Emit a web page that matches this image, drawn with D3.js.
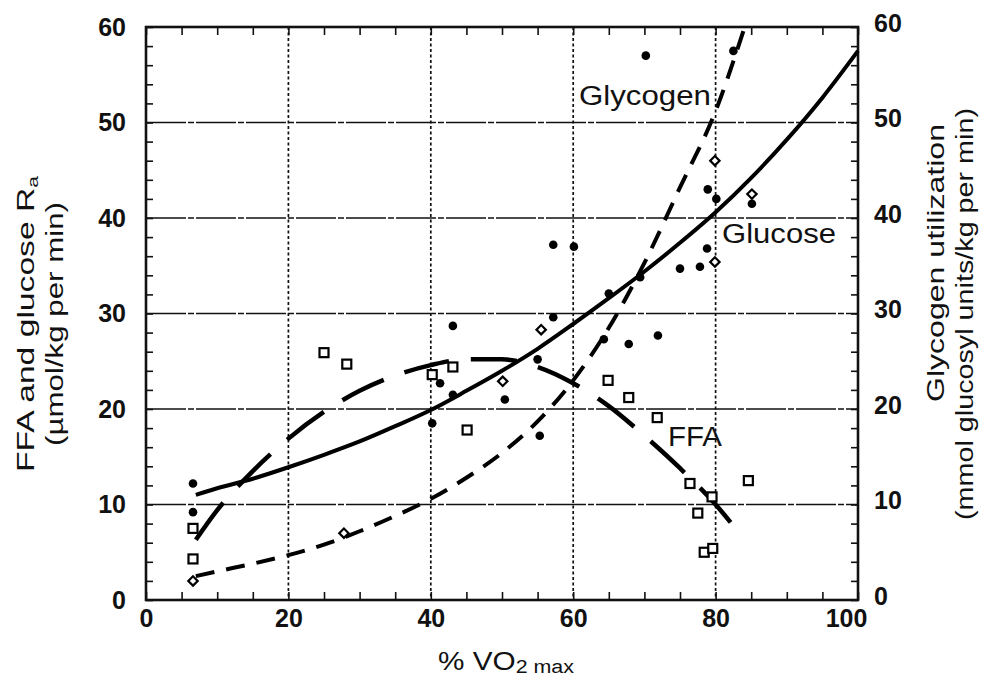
<!DOCTYPE html>
<html>
<head>
<meta charset="utf-8">
<script src="https://cdn.jsdelivr.net/npm/d3@7"></script>
<style>
  html, body { margin: 0; padding: 0; background: #fff; }
  svg { display: block; }
  text { font-family: "Liberation Sans", Arial, Helvetica, sans-serif; fill: #111; }
</style>
</head>
<body>
<svg id="chart" width="993" height="682"></svg>
<script>
// ---------- data ----------
const xTickLabels = [0, 20, 40, 60, 80, 100];
const yTickLabels = [0, 10, 20, 30, 40, 50, 60];
const rightTickLabels = [0, 10, 20, 30, 40, 50, 60];

// Glucose Ra (filled circles, left axis)
const glucoseX = [6.6, 6.6, 40.2, 41.3, 43.1, 43.1, 50.4, 55.3, 55.0, 57.2, 57.2, 60.1, 64.3, 65.0, 67.8, 69.4, 70.2, 71.9, 75.0, 77.8, 78.8, 78.9, 80.1, 85.1, 82.5];
const glucoseY = [12.2, 9.2, 18.5, 22.7, 28.7, 21.5, 21.0, 17.2, 25.2, 29.6, 37.2, 37.0, 27.3, 32.1, 26.8, 33.8, 57.0, 27.7, 34.7, 34.9, 36.8, 43.0, 42.0, 41.5, 57.5];

// FFA Ra (open squares, left axis)
const ffaX = [6.6, 6.6, 25.0, 28.2, 40.2, 43.1, 45.1, 64.9, 67.8, 71.8, 76.4, 77.5, 79.5, 78.4, 79.6, 84.6];
const ffaY = [7.5, 4.3, 25.9, 24.7, 23.6, 24.4, 17.8, 23.0, 21.2, 19.1, 12.2, 9.1, 10.8, 5.0, 5.4, 12.5];

// Glycogen utilization (open diamonds, right axis)
const glycogenX = [6.6, 27.8, 50.1, 55.5, 79.9, 85.1, 79.9];
const glycogenY = [2.0, 7.0, 22.9, 28.3, 46.0, 42.5, 35.4];

// Fitted curves
const glucoseCurveX = [7, 10, 15, 20, 25, 30, 35, 40, 45, 50, 55, 60, 65, 70, 75, 80, 85, 90, 95, 100];
const glucoseCurveY = [11.0, 11.7, 12.7, 13.9, 15.2, 16.6, 18.2, 19.9, 21.9, 24.0, 26.3, 28.9, 31.6, 34.4, 37.4, 40.6, 44.2, 48.2, 52.6, 57.5];

const ffaCurveX = [7, 10, 15, 20, 25, 30, 35, 40, 45, 50, 55, 60, 65, 70, 75, 80, 83];
const ffaCurveY = [6.3, 9.4, 13.5, 16.9, 19.7, 21.9, 23.5, 24.6, 25.2, 25.2, 24.4, 22.7, 20.3, 17.2, 13.8, 10.0, 7.3];

const glycogenCurveX = [7, 10, 15, 20, 25, 30, 35, 40, 45, 50, 55, 60, 65, 70, 75, 80, 84];
const glycogenCurveY = [2.5, 3.0, 3.8, 4.7, 5.8, 7.2, 8.8, 10.6, 12.8, 15.4, 18.7, 23.0, 28.5, 35.3, 43.2, 51.2, 59.8];

// ---------- layout ----------
const svg = d3.select("#chart");
const L = 146, R = 858, T = 27, B = 600;

const x = d3.scaleLinear().domain([0, 100]).range([L, R]);
const y = d3.scaleLinear().domain([0, 60]).range([B, T]);
const yR = d3.scaleLinear().domain([0, 60]).range([B, T]);

// grid
const grid = svg.append("g");
grid.selectAll("line.h").data(yTickLabels.slice(1, -1)).join("line")
  .attr("x1", L).attr("x2", R).attr("y1", d => y(d)).attr("y2", d => y(d))
  .attr("stroke", "#111").attr("stroke-width", 1.6).attr("stroke-dasharray", "40,2,6,2");
grid.selectAll("line.v").data(xTickLabels.slice(1, -1)).join("line")
  .attr("y1", T).attr("y2", B).attr("x1", d => x(d)).attr("x2", d => x(d))
  .attr("stroke", "#111").attr("stroke-width", 1.7).attr("stroke-dasharray", "3,2.5");

// minor ticks (inward)
function minor(axis, tr) {
  const g = svg.append("g").attr("transform", tr).call(axis);
  g.select(".domain").remove();
  g.selectAll("line").attr("stroke", "#111").attr("stroke-width", 1.6);
  return g;
}
minor(d3.axisLeft(y).tickValues(d3.range(0, 61, 2)).tickSize(-7).tickFormat(""), `translate(${L},0)`);
minor(d3.axisRight(yR).tickValues(d3.range(0, 61, 2)).tickSize(-7).tickFormat(""), `translate(${R},0)`);
minor(d3.axisBottom(x).tickValues(d3.range(0, 101, 5)).tickSize(-8).tickFormat(""), `translate(0,${B})`);
minor(d3.axisTop(x).tickValues(d3.range(0, 101, 5)).tickSize(-8).tickFormat(""), `translate(0,${T})`);

// tick labels
function labels(axis, tr) {
  const g = svg.append("g").attr("transform", tr).call(axis);
  g.select(".domain").remove();
  g.selectAll("line").remove();
  g.selectAll("text").attr("font-size", 25).attr("fill", "#111")
    .style("font-family", "'Liberation Sans', Arial, sans-serif").attr("font-weight", "bold");
  return g;
}
labels(d3.axisLeft(y).tickValues(yTickLabels).tickSize(0).tickPadding(20).tickFormat(d3.format("d")), `translate(${L},0)`);
labels(d3.axisRight(yR).tickValues(rightTickLabels).tickSize(0).tickPadding(16).tickFormat(d3.format("d")), `translate(${R},-4)`);
const bl = labels(d3.axisBottom(x).tickValues(xTickLabels).tickSize(0).tickPadding(9).tickFormat(d3.format("d")), `translate(0,${B})`);
bl.selectAll("text").filter(d => d === 100).attr("dx", -12);

// border
svg.append("rect").attr("x", L).attr("y", T).attr("width", R - L).attr("height", B - T)
  .attr("fill", "none").attr("stroke", "#111").attr("stroke-width", 2.6);

// curves
const line = (xs, ys, sy) => d3.line().x((d, i) => x(xs[i])).y((d, i) => sy(ys[i])).curve(d3.curveMonotoneX)(xs);
svg.append("path").attr("d", line(glucoseCurveX, glucoseCurveY, y))
  .attr("fill", "none").attr("stroke", "#000").attr("stroke-width", 4);
svg.append("path").attr("d", line(ffaCurveX, ffaCurveY, y))
  .attr("fill", "none").attr("stroke", "#000").attr("stroke-width", 4.5).attr("stroke-dasharray", "46,22");
svg.append("path").attr("d", line(glycogenCurveX, glycogenCurveY, yR))
  .attr("fill", "none").attr("stroke", "#000").attr("stroke-width", 4).attr("stroke-dasharray", "19,12");

// markers
svg.append("g").selectAll("circle").data(glucoseX).join("circle")
  .attr("cx", (d, i) => x(glucoseX[i])).attr("cy", (d, i) => y(glucoseY[i])).attr("r", 4.3).attr("fill", "#000");
svg.append("g").selectAll("rect").data(ffaX).join("rect")
  .attr("x", (d, i) => x(ffaX[i]) - 4.5).attr("y", (d, i) => y(ffaY[i]) - 4.5)
  .attr("width", 9).attr("height", 9).attr("fill", "#fff").attr("stroke", "#000").attr("stroke-width", 2.2);
svg.append("g").selectAll("path").data(glycogenX).join("path")
  .attr("transform", (d, i) => `translate(${x(glycogenX[i])},${yR(glycogenY[i])}) rotate(45)`)
  .attr("d", d3.symbol(d3.symbolSquare, 44)())
  .attr("fill", "#fff").attr("stroke", "#000").attr("stroke-width", 2.2);

// curve labels
function lbl(t, x0, y0, len) {
  svg.append("text").attr("x", x0).attr("y", y0).attr("font-size", 27)
    .attr("textLength", len).attr("lengthAdjust", "spacingAndGlyphs").text(t);
}
lbl("Glycogen", 579, 105, 132);
lbl("Glucose", 722, 243, 114);
lbl("FFA", 668, 446, 54);

// axis titles
const lt = svg.append("text").attr("transform", "translate(34,472) rotate(-90)")
  .attr("font-size", 24).attr("textLength", 296).attr("lengthAdjust", "spacingAndGlyphs");
lt.append("tspan").text("FFA and glucose R");
lt.append("tspan").attr("font-size", 15).attr("dy", 4).text("a");
svg.append("text").attr("transform", "translate(63,446) rotate(-90)")
  .attr("font-size", 23).attr("textLength", 244).attr("lengthAdjust", "spacingAndGlyphs")
  .text("(\u00b5mol/kg per min)");

svg.append("text").attr("transform", "translate(944,402) rotate(-90)")
  .attr("font-size", 24).attr("textLength", 278).attr("lengthAdjust", "spacingAndGlyphs")
  .text("Glycogen utilization");
svg.append("text").attr("transform", "translate(973,520) rotate(-90)")
  .attr("font-size", 23).attr("textLength", 412).attr("lengthAdjust", "spacingAndGlyphs")
  .text("(mmol glucosyl units/kg per min)");

const xt = svg.append("text").attr("x", 438).attr("y", 670).attr("font-size", 25)
  .attr("textLength", 136).attr("lengthAdjust", "spacingAndGlyphs");
xt.append("tspan").text("% VO");
xt.append("tspan").attr("font-size", 18).attr("dy", 3).text("2 max");
</script>
</body>
</html>
